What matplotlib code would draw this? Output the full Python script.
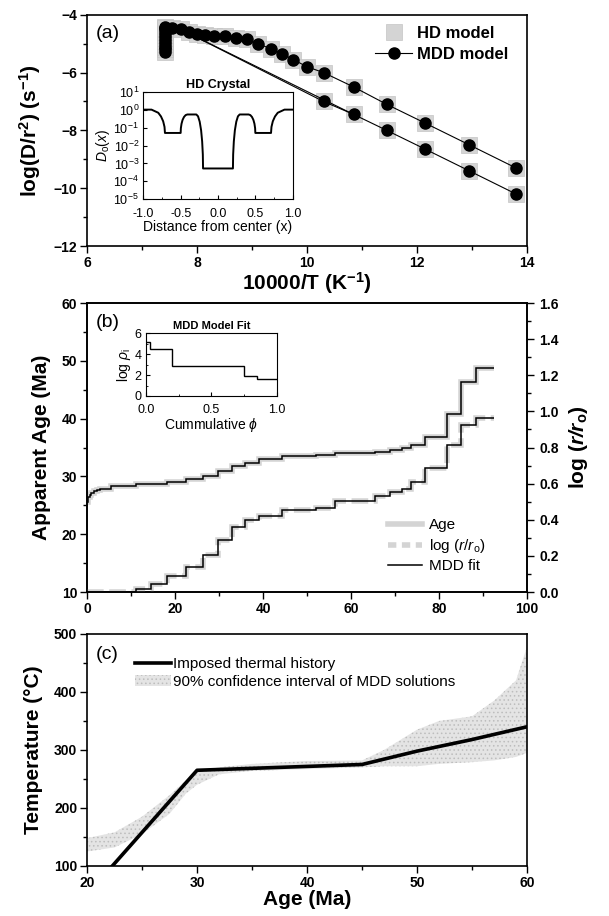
import numpy as np
import matplotlib
matplotlib.use("Agg")
import matplotlib.pyplot as plt
from matplotlib.lines import Line2D
from matplotlib.patches import Patch

plt.rcParams["font.family"] = ["Liberation Sans", "DejaVu Sans"]
plt.rcParams["mathtext.fontset"] = "custom"
plt.rcParams["mathtext.rm"] = "Liberation Sans"
plt.rcParams["mathtext.it"] = "Liberation Sans:italic"
plt.rcParams["mathtext.bf"] = "Liberation Sans:bold"
plt.rcParams["mathtext.sf"] = "Liberation Sans:style=italic:weight=bold"
plt.rcParams["hatch.linewidth"] = 0.6

GRAY = "#d4d4d4"

# panel (a): Arrhenius data
cluster_x = [7.42] * 10
cluster_y = [-5.3, -5.2, -5.1, -5.0, -4.9, -4.8, -4.7, -4.6, -4.5, -4.42]
upper_x = [7.42, 7.55, 7.7, 7.85, 8.0, 8.15, 8.3, 8.5, 8.7, 8.9, 9.1, 9.35,
           9.55, 9.75, 10.0, 10.3, 10.85, 11.45, 12.15, 12.95, 13.8]
upper_y = [-4.45, -4.45, -4.5, -4.58, -4.65, -4.7, -4.72, -4.75, -4.8, -4.85,
           -5.0, -5.18, -5.35, -5.55, -5.8, -6.0, -6.5, -7.1, -7.75, -8.5, -9.3]
lower_x = [10.3, 10.85, 11.45, 12.15, 12.95, 13.8]
lower_y = [-7.0, -7.45, -8.0, -8.65, -9.4, -10.2]
link1_x, link1_y = [7.7, 10.3], [-4.5, -7.0]
link2_x, link2_y = [7.7, 10.85], [-4.5, -7.45]

# inset (a): HD crystal diffusivity profile
prof_x = [-1.0, -0.89, -0.80, -0.763, -0.734, -0.716, -0.71, -0.5, -0.497,
          -0.488, -0.474, -0.455, -0.433, -0.41, -0.29, -0.267, -0.245, -0.226,
          -0.212, -0.203, -0.2, 0.2, 0.203, 0.212, 0.226, 0.245, 0.267, 0.29,
          0.41, 0.433, 0.455, 0.474, 0.488, 0.497, 0.5, 0.71, 0.716, 0.734,
          0.763, 0.80, 0.89, 1.0]
prof_logd = [0.0, 0.0, -0.174, -0.381, -0.65, -0.964, -1.3, -1.3, -1.033,
             -0.785, -0.572, -0.408, -0.305, -0.27, -0.27, -0.373, -0.673,
             -1.152, -1.775, -2.501, -3.28, -3.28, -2.501, -1.775, -1.152,
             -0.673, -0.373, -0.27, -0.27, -0.305, -0.408, -0.572, -0.785,
             -1.033, -1.3, -1.3, -0.964, -0.65, -0.381, -0.174, 0.0, 0.0]

# panel (b): age spectrum and log(r/ro)
age_edges = [0, 0.3, 0.6, 1.0, 1.5, 2.2, 3.0, 5.5, 11.2, 18.2, 22.6, 26.3,
             29.8, 32.9, 36.0, 39.0, 44.3, 52.0, 56.4, 65.4, 68.8, 71.5, 73.7,
             76.8, 81.7, 84.9, 88.3, 92.5]
age_vals = [25.6, 26.4, 26.8, 27.1, 27.4, 27.7, 27.9, 28.3, 28.7, 29.0, 29.5,
            30.1, 30.9, 31.8, 32.4, 33.0, 33.5, 33.7, 34.0, 34.3, 34.6, 35.0,
            35.4, 36.9, 40.8, 46.4, 48.8]
logr_edges = [0, 11.2, 14.5, 18.2, 22.6, 26.3, 29.8, 32.9, 36.0, 39.0, 44.3,
              52.0, 56.4, 65.4, 68.8, 71.5, 73.7, 76.8, 81.7, 84.9, 88.3, 92.5]
logr_vals = [0.0, 0.018, 0.044, 0.087, 0.138, 0.203, 0.286, 0.358, 0.397,
             0.423, 0.452, 0.465, 0.502, 0.530, 0.554, 0.572, 0.607, 0.686,
             0.816, 0.926, 0.963]

# inset (b): MDD model fit
phi_edges = [0.0, 0.03, 0.2, 0.75, 0.85, 1.0]
logrho_vals = [5.2, 4.5, 2.9, 1.9, 1.6]

# panel (c): thermal history
hist_age = [22.3, 30, 45, 50, 55, 60]
hist_temp = [100, 265, 275, 298, 318, 340]
ci_age = [20, 22.5, 25, 27.5, 29, 30, 32, 35, 40, 45, 47, 50, 52, 55, 57, 59, 60]
ci_low = [125, 132, 155, 190, 225, 240, 258, 264, 267, 270, 272, 272, 276, 279,
          282, 288, 295]
ci_high = [148, 158, 185, 222, 248, 262, 270, 276, 281, 282, 300, 335, 350,
           358, 385, 420, 478]

fig = plt.figure(figsize=(6.09, 9.16), dpi=100)


def style_main(ax):
    ax.tick_params(which="major", direction="out", length=5, width=1,
                   labelsize=10, pad=2)
    ax.tick_params(which="minor", direction="out", length=3, width=1)
    for lab in ax.get_xticklabels() + ax.get_yticklabels():
        lab.set_fontweight("bold")
    for s in ax.spines.values():
        s.set_linewidth(1.2)


def style_inset(ax):
    ax.tick_params(which="both", direction="in", labelsize=9)
    ax.tick_params(axis="y", pad=3)
    ax.tick_params(axis="x", pad=6)
    ax.tick_params(which="major", length=3)
    ax.tick_params(which="minor", length=1.5)


# ---- (a)
ax = fig.add_axes([0.1429, 0.7314, 0.7225, 0.2525])
hd_kw = dict(ls="none", marker="s", ms=11, mfc=GRAY, mec="#c4c4c4", mew=0.5)
ax.plot(cluster_x, cluster_y, **hd_kw)
ax.plot(upper_x, upper_y, **hd_kw)
ax.plot(lower_x, lower_y, **hd_kw)
ax.plot(link1_x, link1_y, color="k", lw=0.8)
ax.plot(link2_x, link2_y, color="k", lw=0.8)
ax.plot(cluster_x, cluster_y, color="k", lw=0.8, marker="o", ms=8)
ax.plot(upper_x, upper_y, color="k", lw=0.8, marker="o", ms=8)
ax.plot(lower_x, lower_y, color="k", lw=0.8, marker="o", ms=8)
ax.set_xlim(6, 14)
ax.set_ylim(-12, -4)
ax.set_xticks([6, 8, 10, 12, 14])
ax.set_xticks([7, 9, 11, 13], minor=True)
ax.set_yticks([-12, -10, -8, -6, -4])
ax.set_yticks([-11, -9, -7, -5], minor=True)
style_main(ax)
ax.set_xlabel(r"10000/T (K$^\mathbf{-1}$)", fontsize=15, fontweight="bold",
              labelpad=0)
ax.set_ylabel(r"log(D/r$^\mathbf{2}$) (s$^\mathbf{-1}$)", fontsize=15,
              fontweight="bold", labelpad=8)
ax.text(0.02, 0.92, "(a)", transform=ax.transAxes, fontsize=14, va="center")
h_hd = Line2D([], [], **hd_kw)
h_mdd = Line2D([], [], color="k", lw=0.8, marker="o", ms=8)
ax.legend([h_hd, h_mdd], ["HD model", "MDD model"], loc="upper left",
          bbox_to_anchor=(0.655, 0.95), frameon=False, borderpad=0,
          borderaxespad=0, handlelength=2.2, handletextpad=0.3,
          labelspacing=0.35, prop=dict(size=12, weight="bold"))

# inset (a)
ins = fig.add_axes([0.2353, 0.7824, 0.2453, 0.1175])
ins.plot(prof_x, [10 ** v for v in prof_logd], color="k", lw=1.4)
ins.set_yscale("log")
ins.set_xlim(-1, 1)
ins.set_ylim(1e-5, 10)
ins.set_xticks([-1.0, -0.5, 0.0, 0.5, 1.0])
ins.set_xticklabels(["-1.0", "-0.5", "0.0", "0.5", "1.0"])
ins.set_xticks([-0.75, -0.25, 0.25, 0.75], minor=True)
ins.set_yticks([10.0 ** k for k in range(-5, 2)])
style_inset(ins)
ins.set_xlabel("Distance from center (x)", fontsize=10, labelpad=0)
ins.set_ylabel(r"$D_{\rm o}(x)$", fontsize=10, labelpad=1)
ins.set_title("HD Crystal", fontsize=9, fontweight="bold", pad=3)

# ---- (b)
axb = fig.add_axes([0.1429, 0.3537, 0.7225, 0.3155])
axr = axb.twinx()
axb.stairs(age_vals, age_edges, baseline=None, color=GRAY, lw=4)
axr.stairs(logr_vals, logr_edges, baseline=None, color=GRAY, lw=4,
           ls=(0, (3, 1)))
axb.stairs(age_vals, age_edges, baseline=None, color="k", lw=1.1)
axr.stairs(logr_vals, logr_edges, baseline=None, color="k", lw=1.1)
axb.set_xlim(0, 100)
axb.set_ylim(10, 60)
axr.set_ylim(0, 1.6)
axb.set_xticks([0, 20, 40, 60, 80, 100])
axb.set_xticks([10, 30, 50, 70, 90], minor=True)
axb.set_yticks([10, 20, 30, 40, 50, 60])
axb.set_yticks([15, 25, 35, 45, 55], minor=True)
axr.set_yticks([0.0, 0.2, 0.4, 0.6, 0.8, 1.0, 1.2, 1.4, 1.6])
axr.set_yticks(np.arange(0.1, 1.6, 0.2), minor=True)
axr.set_yticklabels(["0.0", "0.2", "0.4", "0.6", "0.8", "1.0", "1.2", "1.4",
                     "1.6"])
style_main(axb)
style_main(axr)
axr.tick_params(axis="y", pad=4)
axb.set_ylabel("Apparent Age (Ma)", fontsize=15, fontweight="bold", labelpad=8)
axr.set_ylabel(r"log ($\mathsf{r/r}_\mathbf{o}$)", fontsize=15,
               fontweight="bold", labelpad=6)
axb.text(0.02, 0.931, "(b)", transform=axb.transAxes, fontsize=14, va="center")
hb = [Line2D([], [], color=GRAY, lw=4),
      Line2D([], [], color=GRAY, lw=4, ls=(0, (1.5, 1))),
      Line2D([], [], color="k", lw=1.1)]
axr.legend(hb, ["Age", r"log ($\it{r/r}_{\rm o}$)", "MDD fit"],
           loc="upper left", bbox_to_anchor=(0.684, 0.255), frameon=False,
           borderpad=0, borderaxespad=0, handlelength=2.2, handletextpad=0.5,
           labelspacing=0.3, fontsize=11)

# inset (b)
insb = fig.add_axes([0.2397, 0.5677, 0.2151, 0.0684])
insb.stairs(logrho_vals, phi_edges, baseline=None, color="k", lw=1.0)
insb.set_xlim(0, 1)
insb.set_ylim(0, 6)
insb.set_xticks([0.0, 0.5, 1.0])
insb.set_xticklabels(["0.0", "0.5", "1.0"])
insb.set_xticks([0.25, 0.75], minor=True)
insb.set_yticks([0, 2, 4, 6])
insb.set_yticks([1, 3, 5], minor=True)
style_inset(insb)
insb.set_xlabel(r"Cummulative $\phi$", fontsize=10, labelpad=0)
insb.set_ylabel(r"log $\rho_{\rm i}$", fontsize=10, labelpad=1)
insb.set_title("MDD Model Fit", fontsize=8, fontweight="bold", pad=3)

# ---- (c)
axc = fig.add_axes([0.1429, 0.0546, 0.7225, 0.2533])
axc.fill_between(ci_age, ci_low, ci_high, facecolor="#e4e4e4",
                 edgecolor="#bdbdbd", hatch="....", lw=0)
axc.plot(hist_age, hist_temp, color="k", lw=2.6)
axc.set_xlim(20, 60)
axc.set_ylim(100, 500)
axc.set_xticks([20, 30, 40, 50, 60])
axc.set_xticks([25, 35, 45, 55], minor=True)
axc.set_yticks([100, 200, 300, 400, 500])
axc.set_yticks([150, 250, 350, 450], minor=True)
style_main(axc)
axc.set_xlabel("Age (Ma)", fontsize=15, fontweight="bold", labelpad=0)
axc.set_ylabel("Temperature (\u00b0C)", fontsize=15, fontweight="bold",
               labelpad=8)
axc.text(0.02, 0.91, "(c)", transform=axc.transAxes, fontsize=14, va="center")
hc = [Line2D([], [], color="k", lw=2.6),
      Patch(facecolor="#e4e4e4", edgecolor="#bdbdbd", hatch="....", lw=0)]
axc.legend(hc, ["Imposed thermal history",
                "90% confidence interval of MDD solutions"],
           loc="upper left", bbox_to_anchor=(0.108, 0.9), frameon=False,
           borderpad=0, borderaxespad=0, handlelength=2.4, handletextpad=0.1,
           labelspacing=0.25, fontsize=11)

fig.savefig("out.png", dpi=100)
